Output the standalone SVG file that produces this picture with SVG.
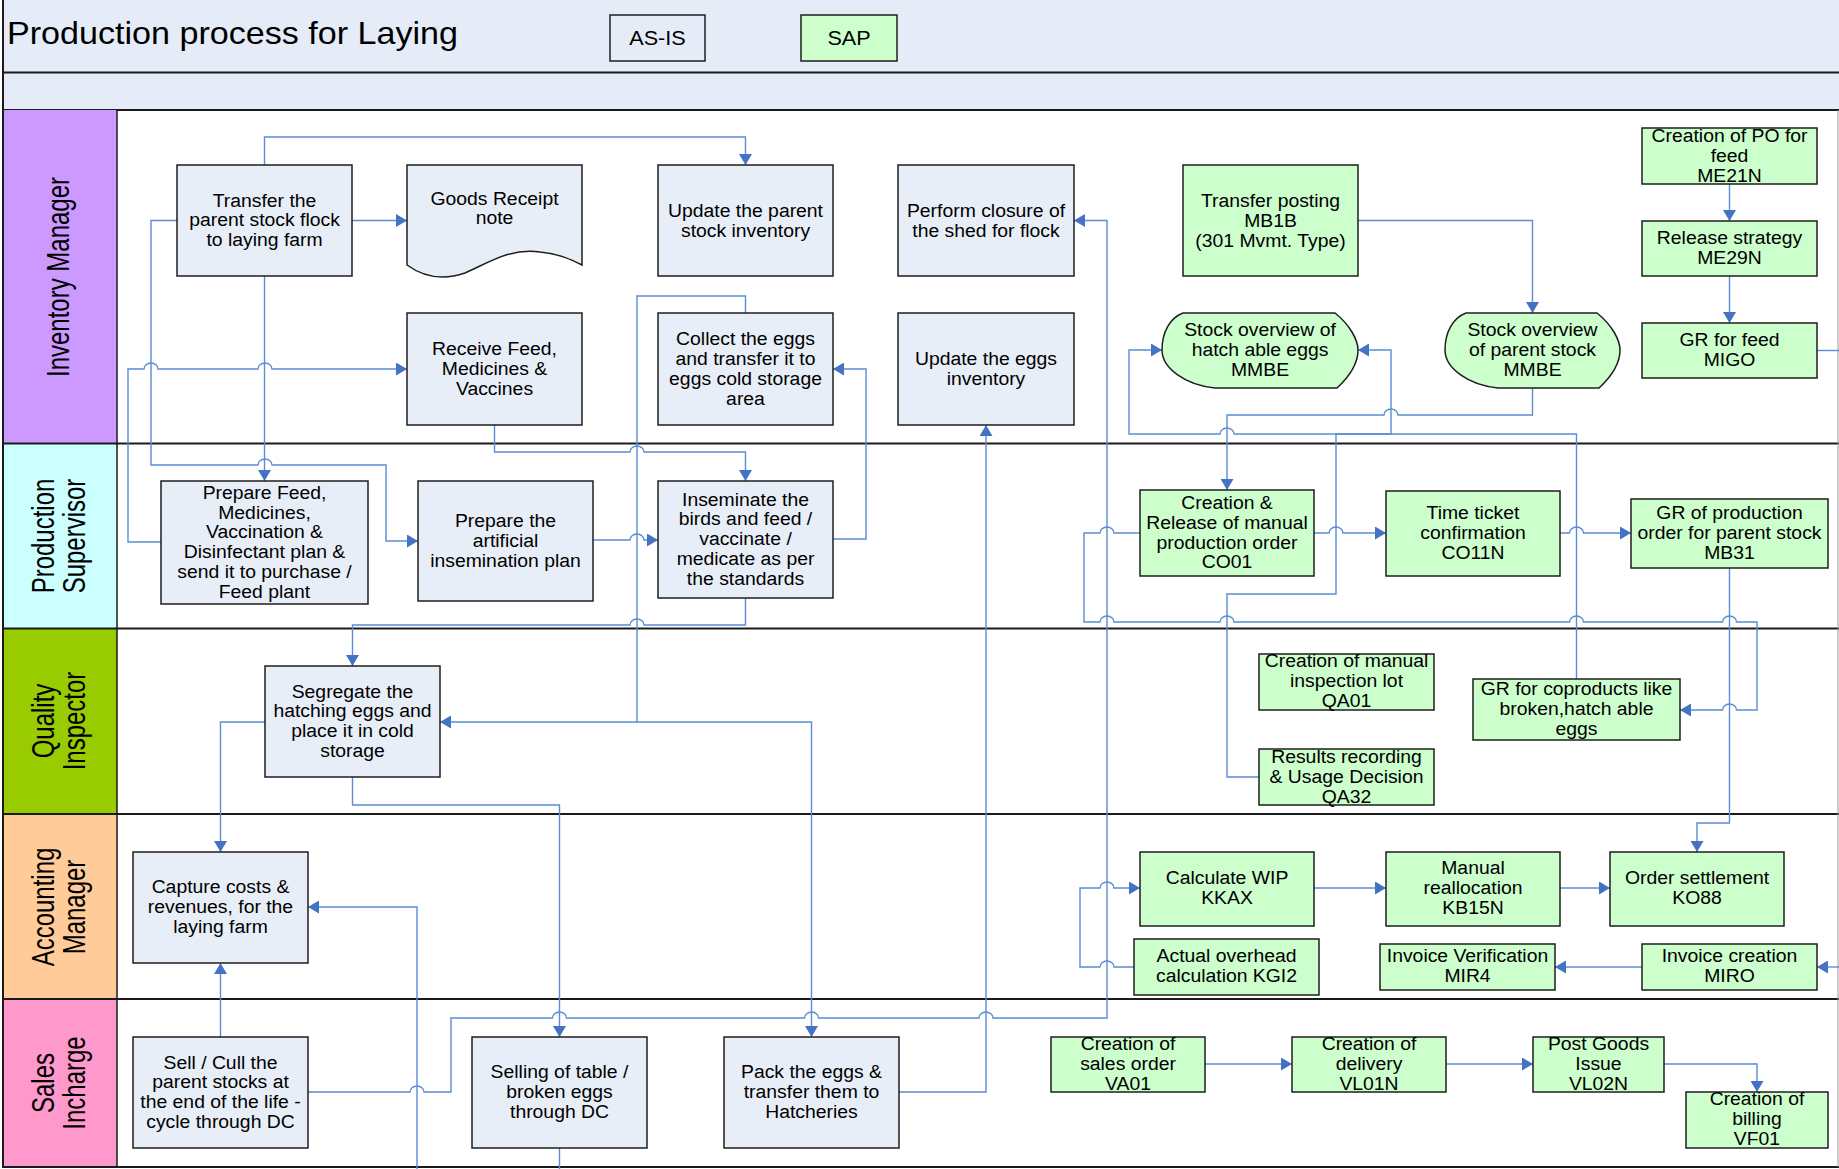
<svg xmlns="http://www.w3.org/2000/svg" width="1839" height="1169" viewBox="0 0 1839 1169">
<style>
.t{font-family:"Liberation Sans",Arial,sans-serif;font-size:17.6px;text-anchor:middle;fill:#000}
.lane{font-family:"Liberation Sans",Arial,sans-serif;font-size:24px;text-anchor:middle;fill:#000}
.asis{fill:#E8EEF7;stroke:#1e1e1e;stroke-width:1.5}
.sap{fill:#CCFFCC;stroke:#1e1e1e;stroke-width:1.5}
.c{fill:none;stroke:#5B8CD4;stroke-width:1.4}
.ca{fill:none;stroke:#5B8CD4;stroke-width:1.4;marker-end:url(#a)}
.sep{stroke:#1a1a1a;stroke-width:2}
</style>
<defs>
<marker id="a" markerUnits="userSpaceOnUse" markerWidth="12" markerHeight="13" refX="11" refY="6.5" orient="auto"><path d="M0,0 L11,6.5 L0,13 z" fill="#4472C4"/></marker>
</defs>
<rect x="0" y="0" width="1839" height="1169" fill="#ffffff"/>
<g id="header">
<rect x="3" y="0" width="1836" height="110" fill="#E5ECF7"/>
<line class="sep" x1="3" y1="72.5" x2="1839" y2="72.5"/>
<line class="sep" x1="3" y1="110" x2="1839" y2="110"/>
<text font-family="Liberation Sans,Arial,sans-serif" font-size="31" transform="translate(7 44) scale(1.1 1)">Production process for Laying</text>
<rect x="610" y="15" width="95" height="46" fill="none" stroke="#1e1e1e" stroke-width="1.5"/>
<text font-family="Liberation Sans,Arial,sans-serif" font-size="20" text-anchor="middle" transform="translate(657.5 45) scale(1.08 1)">AS-IS</text>
<rect x="801" y="15" width="96" height="46" fill="#CCFFCC" stroke="#1e1e1e" stroke-width="1.5"/>
<text font-family="Liberation Sans,Arial,sans-serif" font-size="20" text-anchor="middle" transform="translate(849 45) scale(1.08 1)">SAP</text>
</g>
<g id="lanes">
<rect x="3" y="110" width="114" height="333.5" fill="#CC99FF"/>
<rect x="3" y="443.5" width="114" height="185" fill="#CCFFFF"/>
<rect x="3" y="628.5" width="114" height="185.5" fill="#99CC00"/>
<rect x="3" y="814" width="114" height="185" fill="#FFCC99"/>
<rect x="3" y="999" width="114" height="168" fill="#FF99CC"/>
<line class="sep" x1="3" y1="443.5" x2="1839" y2="443.5"/>
<line class="sep" x1="3" y1="628.5" x2="1839" y2="628.5"/>
<line class="sep" x1="3" y1="814" x2="1839" y2="814"/>
<line class="sep" x1="3" y1="999" x2="1839" y2="999"/>
<line class="sep" x1="3" y1="1167" x2="1839" y2="1167"/>
<line class="sep" x1="3" y1="0" x2="3" y2="1168"/>
<line x1="117" y1="110" x2="117" y2="1167" stroke="#1a1a1a" stroke-width="1.5"/>
<line x1="1838" y1="110" x2="1838" y2="1167" stroke="#999" stroke-width="1"/>
<text class="lane" transform="translate(69 277) rotate(-90) scale(1 1.3)">Inventory Manager</text>
<text class="lane" transform="translate(54 536) rotate(-90) scale(1 1.3)">Production</text>
<text class="lane" transform="translate(85 536) rotate(-90) scale(1 1.3)">Supervisor</text>
<text class="lane" transform="translate(54 721) rotate(-90) scale(1 1.3)">Quality</text>
<text class="lane" transform="translate(85 721) rotate(-90) scale(1 1.3)">Inspector</text>
<text class="lane" transform="translate(54 907) rotate(-90) scale(1 1.3)">Accounting</text>
<text class="lane" transform="translate(85 907) rotate(-90) scale(1 1.3)">Manager</text>
<text class="lane" transform="translate(54 1083) rotate(-90) scale(1 1.3)">Sales</text>
<text class="lane" transform="translate(85 1083) rotate(-90) scale(1 1.3)">Incharge</text>
</g>
<g id="connectors">
<path class="ca" d="M264.5,165 V137 H745.5 V165"/>
<path class="ca" d="M352,220.5 H407"/>
<path class="ca" d="M177,220.5 H151 V465 H258 a7 6 0 0 1 14 0 H386 V541 H418"/>
<path class="ca" d="M161,542 H128 V369 H144 a7 6 0 0 1 14 0 H258 a7 6 0 0 1 14 0 H407"/>
<path class="ca" d="M264.5,276 V481"/>
<path class="ca" d="M494.5,425 V452 H630 a7 6 0 0 1 14 0 H745.5 V481"/>
<path class="ca" d="M745.5,313 V296 H637 V722 H440"/>
<path class="ca" d="M637,722 H811.5 V1037"/>
<path class="ca" d="M593,540 H630 a7 6 0 0 1 14 0 H658"/>
<path class="ca" d="M745.5,598 V625 H644 a7 6 0 0 0 -14 0 H352.5 V666"/>
<path class="ca" d="M833,539 H866 V369 H833"/>
<path class="ca" d="M352.5,777 V805 H559.5 V1037"/>
<path class="ca" d="M265,722 H220.5 V852"/>
<path class="ca" d="M220.5,1037 V963"/>
<path class="ca" d="M417,1169 V907 H308"/>
<path class="c" d="M559.5,1148 V1169"/>
<path class="ca" d="M308,1092 H410 a7 6 0 0 1 14 0 H451 V1018 H552.5 a7 6 0 0 1 14 0 H804.5 a7 6 0 0 1 14 0 H979 a7 6 0 0 1 14 0 H1107 V220.5 H1074"/>
<path class="ca" d="M899,1092 H986 V425"/>
<path class="ca" d="M1358,220.5 H1532.5 V313"/>
<path class="ca" d="M1532.5,388 V415 H1398 a7 6 0 0 0 -14 0 H1227 V490"/>
<path class="ca" d="M1576.5,679 V434 H1234 a7 6 0 0 0 -14 0 H1129 V350 H1162"/>
<path class="ca" d="M1259,777 H1227 V594 H1336 V434 H1391 V350 H1358"/>
<path class="ca" d="M1314,533 H1329 a7 6 0 0 1 14 0 H1386"/>
<path class="ca" d="M1560,533 H1569.5 a7 6 0 0 1 14 0 H1631"/>
<path class="ca" d="M1140,533 H1114 a7 6 0 0 0 -14 0 H1084 V622 H1100 a7 6 0 0 1 14 0 H1220 a7 6 0 0 1 14 0 H1569.5 a7 6 0 0 1 14 0 H1722.5 a7 6 0 0 1 14 0 H1757 V710 H1736.5 a7 6 0 0 0 -14 0 H1680"/>
<path class="ca" d="M1729.5,568 V823 H1697 V852"/>
<path class="ca" d="M1729.5,184 V221"/>
<path class="ca" d="M1729.5,276 V323"/>
<path class="c" d="M1817,350.5 H1839"/>
<path class="ca" d="M1839,967 H1817"/>
<path class="ca" d="M1642,967 H1555"/>
<path class="ca" d="M1314,888 H1386"/>
<path class="ca" d="M1560,888 H1610"/>
<path class="ca" d="M1134,967 H1114 a7 6 0 0 0 -14 0 H1080 V888 H1100 a7 6 0 0 1 14 0 H1140"/>
<path class="ca" d="M1205,1064 H1292"/>
<path class="ca" d="M1446,1064 H1533"/>
<path class="ca" d="M1664,1064 H1757 V1092"/>
</g>
<g id="n-transfer"><rect class="asis" x="177" y="165" width="175" height="111"/>
<text class="t" transform="translate(264.5 0) scale(1.1 1)"><tspan x="0" y="207">Transfer the</tspan><tspan x="0" y="226.5">parent stock flock</tspan><tspan x="0" y="246">to laying farm</tspan></text></g>
<g id="n-goods-receipt"><path class="asis" d="M407,165 H582 V265 C572,260 560,254 540,252 C510,248 490,262 465,273 C445,280 425,278 407,265 Z"/>
<text class="t" transform="translate(494.5 0) scale(1.1 1)"><tspan x="0" y="205">Goods Receipt</tspan><tspan x="0" y="224">note</tspan></text></g>
<g id="n-update-parent"><rect class="asis" x="658" y="165" width="175" height="111"/>
<text class="t" transform="translate(745.5 0) scale(1.1 1)"><tspan x="0" y="217">Update the parent</tspan><tspan x="0" y="237">stock inventory</tspan></text></g>
<g id="n-closure"><rect class="asis" x="898" y="165" width="176" height="111"/>
<text class="t" transform="translate(986 0) scale(1.1 1)"><tspan x="0" y="217">Perform closure of</tspan><tspan x="0" y="237">the shed for flock</tspan></text></g>
<g id="n-receive"><rect class="asis" x="407" y="313" width="175" height="112"/>
<text class="t" transform="translate(494.5 0) scale(1.1 1)"><tspan x="0" y="355">Receive Feed,</tspan><tspan x="0" y="375">Medicines &amp;</tspan><tspan x="0" y="395">Vaccines</tspan></text></g>
<g id="n-collect"><rect class="asis" x="658" y="313" width="175" height="112"/>
<text class="t" transform="translate(745.5 0) scale(1.1 1)"><tspan x="0" y="345">Collect the eggs</tspan><tspan x="0" y="365">and transfer it to</tspan><tspan x="0" y="385">eggs cold storage</tspan><tspan x="0" y="405">area</tspan></text></g>
<g id="n-update-eggs"><rect class="asis" x="898" y="313" width="176" height="112"/>
<text class="t" transform="translate(986 0) scale(1.1 1)"><tspan x="0" y="365">Update the eggs</tspan><tspan x="0" y="385">inventory</tspan></text></g>
<g id="n-prepare-feed"><rect class="asis" x="161" y="481" width="207" height="123"/>
<text class="t" transform="translate(264.5 0) scale(1.1 1)"><tspan x="0" y="499">Prepare Feed,</tspan><tspan x="0" y="519">Medicines,</tspan><tspan x="0" y="538.5">Vaccination &amp;</tspan><tspan x="0" y="558.5">Disinfectant plan &amp;</tspan><tspan x="0" y="578">send it to purchase /</tspan><tspan x="0" y="598">Feed plant</tspan></text></g>
<g id="n-prepare-ai"><rect class="asis" x="418" y="481" width="175" height="120"/>
<text class="t" transform="translate(505.5 0) scale(1.1 1)"><tspan x="0" y="527">Prepare the</tspan><tspan x="0" y="547">artificial</tspan><tspan x="0" y="567">insemination plan</tspan></text></g>
<g id="n-inseminate"><rect class="asis" x="658" y="481" width="175" height="117"/>
<text class="t" transform="translate(745.5 0) scale(1.1 1)"><tspan x="0" y="506">Inseminate the</tspan><tspan x="0" y="525.5">birds and feed /</tspan><tspan x="0" y="545.5">vaccinate /</tspan><tspan x="0" y="565">medicate as per</tspan><tspan x="0" y="585">the standards</tspan></text></g>
<g id="n-segregate"><rect class="asis" x="265" y="666" width="175" height="111"/>
<text class="t" transform="translate(352.5 0) scale(1.1 1)"><tspan x="0" y="698">Segregate the</tspan><tspan x="0" y="717.5">hatching eggs and</tspan><tspan x="0" y="737.5">place it in cold</tspan><tspan x="0" y="757">storage</tspan></text></g>
<g id="n-capture"><rect class="asis" x="133" y="852" width="175" height="111"/>
<text class="t" transform="translate(220.5 0) scale(1.1 1)"><tspan x="0" y="893.5">Capture costs &amp;</tspan><tspan x="0" y="913.5">revenues, for the</tspan><tspan x="0" y="933">laying farm</tspan></text></g>
<g id="n-sell"><rect class="asis" x="133" y="1037" width="175" height="111"/>
<text class="t" transform="translate(220.5 0) scale(1.1 1)"><tspan x="0" y="1069">Sell / Cull the</tspan><tspan x="0" y="1088.5">parent stocks at</tspan><tspan x="0" y="1108.5">the end of the life -</tspan><tspan x="0" y="1128">cycle through DC</tspan></text></g>
<g id="n-selling"><rect class="asis" x="472" y="1037" width="175" height="111"/>
<text class="t" transform="translate(559.5 0) scale(1.1 1)"><tspan x="0" y="1078">Selling of table /</tspan><tspan x="0" y="1098">broken eggs</tspan><tspan x="0" y="1118">through DC</tspan></text></g>
<g id="n-pack"><rect class="asis" x="724" y="1037" width="175" height="111"/>
<text class="t" transform="translate(811.5 0) scale(1.1 1)"><tspan x="0" y="1078">Pack the eggs &amp;</tspan><tspan x="0" y="1098">transfer them to</tspan><tspan x="0" y="1118">Hatcheries</tspan></text></g>
<g id="s-mb1b"><rect class="sap" x="1183" y="165" width="175" height="111"/>
<text class="t" transform="translate(1270.5 0) scale(1.1 1)"><tspan x="0" y="207">Transfer posting</tspan><tspan x="0" y="227">MB1B</tspan><tspan x="0" y="247">(301 Mvmt. Type)</tspan></text></g>
<g id="s-me21n"><rect class="sap" x="1642" y="128" width="175" height="56"/>
<text class="t" transform="translate(1729.5 0) scale(1.1 1)"><tspan x="0" y="142">Creation of PO for</tspan><tspan x="0" y="162">feed</tspan><tspan x="0" y="182">ME21N</tspan></text></g>
<g id="s-me29n"><rect class="sap" x="1642" y="221" width="175" height="55"/>
<text class="t" transform="translate(1729.5 0) scale(1.1 1)"><tspan x="0" y="244.5">Release strategy</tspan><tspan x="0" y="264.5">ME29N</tspan></text></g>
<g id="s-migo"><rect class="sap" x="1642" y="323" width="175" height="55"/>
<text class="t" transform="translate(1729.5 0) scale(1.1 1)"><tspan x="0" y="346.5">GR for feed</tspan><tspan x="0" y="366.5">MIGO</tspan></text></g>
<g id="s-mmbe-hatch"><path class="sap" d="M1183,313 H1335 C1350,325 1358,340 1358,350 C1358,362 1350,376 1337,388 H1215 C1185,385 1162,368 1162,350 C1162,332 1170,318 1183,313 Z"/>
<text class="t" transform="translate(1260 0) scale(1.1 1)"><tspan x="0" y="336">Stock overview of</tspan><tspan x="0" y="356">hatch able eggs</tspan><tspan x="0" y="376">MMBE</tspan></text></g>
<g id="s-mmbe-parent"><path class="sap" d="M1466,313 H1597 C1612,325 1620,340 1620,350 C1620,362 1612,376 1599,388 H1498 C1468,385 1445,368 1445,350 C1445,332 1453,318 1466,313 Z"/>
<text class="t" transform="translate(1532.5 0) scale(1.1 1)"><tspan x="0" y="336">Stock overview</tspan><tspan x="0" y="356">of parent stock</tspan><tspan x="0" y="376">MMBE</tspan></text></g>
<g id="s-co01"><rect class="sap" x="1140" y="490" width="174" height="86"/>
<text class="t" transform="translate(1227 0) scale(1.1 1)"><tspan x="0" y="509">Creation &amp;</tspan><tspan x="0" y="529">Release of manual</tspan><tspan x="0" y="549">production order</tspan><tspan x="0" y="568.5">CO01</tspan></text></g>
<g id="s-co11n"><rect class="sap" x="1386" y="491" width="174" height="85"/>
<text class="t" transform="translate(1473 0) scale(1.1 1)"><tspan x="0" y="519">Time ticket</tspan><tspan x="0" y="539">confirmation</tspan><tspan x="0" y="559">CO11N</tspan></text></g>
<g id="s-mb31"><rect class="sap" x="1631" y="499" width="197" height="69"/>
<text class="t" transform="translate(1729.5 0) scale(1.1 1)"><tspan x="0" y="519.5">GR of production</tspan><tspan x="0" y="539.5">order for parent stock</tspan><tspan x="0" y="559">MB31</tspan></text></g>
<g id="s-qa01"><rect class="sap" x="1259" y="654" width="175" height="56"/>
<text class="t" transform="translate(1346.5 0) scale(1.1 1)"><tspan x="0" y="667.5">Creation of manual</tspan><tspan x="0" y="687.5">inspection lot</tspan><tspan x="0" y="707">QA01</tspan></text></g>
<g id="s-qa32"><rect class="sap" x="1259" y="749" width="175" height="56"/>
<text class="t" transform="translate(1346.5 0) scale(1.1 1)"><tspan x="0" y="763">Results recording</tspan><tspan x="0" y="783">&amp; Usage Decision</tspan><tspan x="0" y="803">QA32</tspan></text></g>
<g id="s-coproducts"><rect class="sap" x="1473" y="679" width="207" height="61"/>
<text class="t" transform="translate(1576.5 0) scale(1.1 1)"><tspan x="0" y="695.5">GR for coproducts like</tspan><tspan x="0" y="715.5">broken,hatch able</tspan><tspan x="0" y="735">eggs</tspan></text></g>
<g id="s-kkax"><rect class="sap" x="1140" y="852" width="174" height="74"/>
<text class="t" transform="translate(1227 0) scale(1.1 1)"><tspan x="0" y="884.5">Calculate WIP</tspan><tspan x="0" y="904.5">KKAX</tspan></text></g>
<g id="s-kb15n"><rect class="sap" x="1386" y="852" width="174" height="74"/>
<text class="t" transform="translate(1473 0) scale(1.1 1)"><tspan x="0" y="874">Manual</tspan><tspan x="0" y="894">reallocation</tspan><tspan x="0" y="914">KB15N</tspan></text></g>
<g id="s-ko88"><rect class="sap" x="1610" y="852" width="174" height="74"/>
<text class="t" transform="translate(1697 0) scale(1.1 1)"><tspan x="0" y="884">Order settlement</tspan><tspan x="0" y="904">KO88</tspan></text></g>
<g id="s-kgi2"><rect class="sap" x="1134" y="939" width="185" height="56"/>
<text class="t" transform="translate(1226.5 0) scale(1.1 1)"><tspan x="0" y="962">Actual overhead</tspan><tspan x="0" y="982">calculation KGI2</tspan></text></g>
<g id="s-mir4"><rect class="sap" x="1380" y="944" width="175" height="46"/>
<text class="t" transform="translate(1467.5 0) scale(1.1 1)"><tspan x="0" y="962">Invoice Verification</tspan><tspan x="0" y="982">MIR4</tspan></text></g>
<g id="s-miro"><rect class="sap" x="1642" y="944" width="175" height="46"/>
<text class="t" transform="translate(1729.5 0) scale(1.1 1)"><tspan x="0" y="962">Invoice creation</tspan><tspan x="0" y="982">MIRO</tspan></text></g>
<g id="s-va01"><rect class="sap" x="1051" y="1037" width="154" height="55"/>
<text class="t" transform="translate(1128 0) scale(1.1 1)"><tspan x="0" y="1050">Creation of</tspan><tspan x="0" y="1070">sales order</tspan><tspan x="0" y="1090">VA01</tspan></text></g>
<g id="s-vl01n"><rect class="sap" x="1292" y="1037" width="154" height="55"/>
<text class="t" transform="translate(1369 0) scale(1.1 1)"><tspan x="0" y="1050">Creation of</tspan><tspan x="0" y="1070">delivery</tspan><tspan x="0" y="1090">VL01N</tspan></text></g>
<g id="s-vl02n"><rect class="sap" x="1533" y="1037" width="131" height="55"/>
<text class="t" transform="translate(1598.5 0) scale(1.1 1)"><tspan x="0" y="1050">Post Goods</tspan><tspan x="0" y="1070">Issue</tspan><tspan x="0" y="1090">VL02N</tspan></text></g>
<g id="s-vf01"><rect class="sap" x="1686" y="1092" width="142" height="56"/>
<text class="t" transform="translate(1757 0) scale(1.1 1)"><tspan x="0" y="1105.5">Creation of</tspan><tspan x="0" y="1125.5">billing</tspan><tspan x="0" y="1145">VF01</tspan></text></g>
</svg>
